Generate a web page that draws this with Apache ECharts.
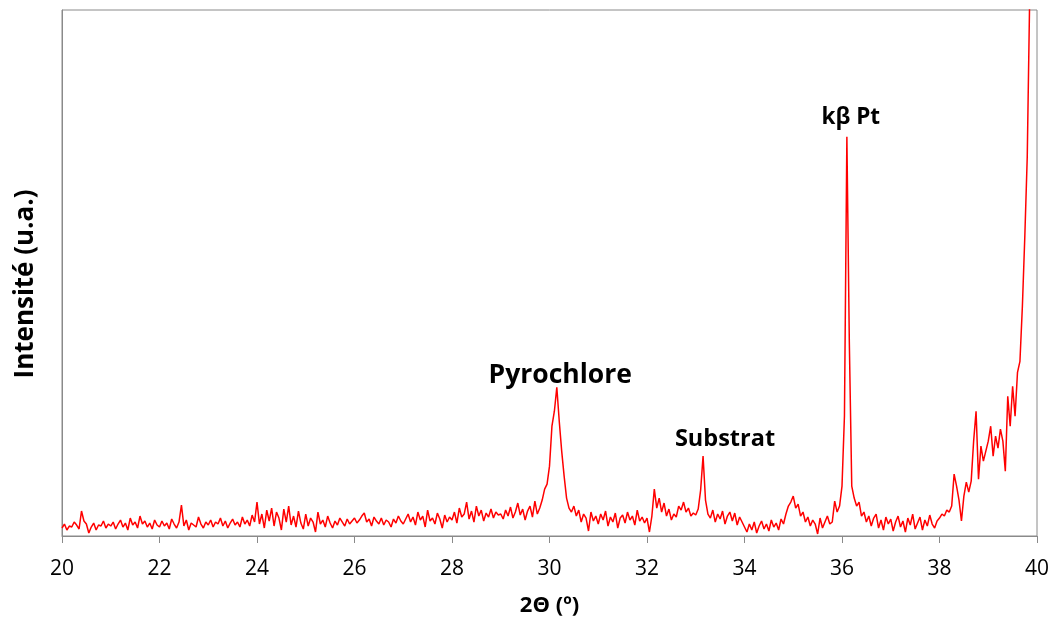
<!DOCTYPE html>
<html>
<head>
<meta charset="utf-8">
<script src="https://cdn.jsdelivr.net/npm/echarts@6/dist/echarts.min.js"></script>
<style>
html,body{margin:0;padding:0;background:#fff;}
#chart{width:1053px;height:622px;}
</style>
</head>
<body>
<div id="chart"></div>
<script>
// Scan grid (2θ in degrees)
const scanStart = 20;
const scanStep = 0.05;
// Intensity (a.u.), one array per degree, 0.05° steps
const i20 = [8,12,6,10,9,14,11,7,25,15,12,3,9,13,6,11,10,15,8,12];
const i21 = [10,14,7,12,16,9,13,6,18,11,14,8,20,12,15,9,13,7,16,11];
const i22 = [9,15,10,13,7,17,12,8,14,31,10,16,6,13,11,9,19,12,8,14];
const i23 = [11,16,9,14,12,18,10,15,8,13,17,11,14,9,19,12,16,10,21,14];
const i24 = [34,12,22,8,26,15,28,10,24,18,6,27,14,30,11,20,9,25,13,7];
const i25 = [22,10,18,14,4,24,12,16,9,20,13,8,15,11,18,14,10,17,12,15];
const i26 = [18,13,16,20,23,14,17,10,19,15,12,18,11,16,14,9,17,13,20,15];
const i27 = [12,17,22,14,19,11,24,16,20,9,26,15,18,12,23,17,8,21,14,19];
const i28 = [16,24,13,28,19,22,34,17,25,14,30,20,26,15,23,19,27,18,24,21];
const i29 = [22,17,26,20,29,18,24,33,21,27,16,25,30,19,35,22,28,36,47,52];
const i30 = [70,110,125,149,115,85,60,38,28,24,30,20,26,14,22,18,5,24,15,20];
const i31 = [12,22,16,25,10,19,14,23,8,18,21,13,24,16,20,11,26,15,19,13];
const i32 = [18,4,20,47,28,38,24,33,20,27,16,22,19,30,26,34,24,28,20,23];
const i33 = [21,27,46,80,36,22,18,26,14,22,17,25,12,20,24,15,23,11,19,14];
const i34 = [9,4,12,6,14,3,10,15,7,12,5,16,9,13,6,17,12,22,30,34];
const i35 = [40,28,32,20,24,14,19,10,16,12,2,18,8,14,20,12,14,35,24,30];
const i36 = [50,120,400,195,50,38,30,34,20,24,14,20,10,18,22,8,16,6,19,12];
const i37 = [17,5,14,20,9,15,4,18,11,22,7,13,19,6,16,10,21,12,8,15];
const i38 = [18,22,20,26,24,30,62,50,36,15,40,54,44,55,95,125,57,90,75,85];
const i39 = [95,110,80,100,88,107,95,65,140,110,150,120,164,175,230,300,380,540,700,850];
const i40 = [950];

// Axis ticks
const xTicks = [20,22,24,26,28,30,32,34,36,38,40];

// Peak annotations
const annText = ['Pyrochlore','Substrat','kβ Pt'];
const annX = [30.22, 33.6, 36.18];
const annY = [161, 97, 419];

const intensity = [].concat(i20,i21,i22,i23,i24,i25,i26,i27,i28,i29,i30,i31,i32,i33,i34,i35,i36,i37,i38,i39,i40);
const lineData = intensity.map((v, k) => [+(scanStart + k * scanStep).toFixed(2), v]);

const annFont = [26.5, 23.5, 22.5];
const annData = annText.map((t, k) => ({
  name: t,
  value: [annX[k], annY[k]],
  label: { fontSize: annFont[k] }
}));

const FONT = '"Open Sans", Lato, sans-serif';
const chart = echarts.init(document.getElementById('chart'), null, {renderer: 'canvas'});
chart.setOption({
  animation: false,
  backgroundColor: '#ffffff',
  grid: {
    left: 62, right: 16, top: 10, bottom: 85,
    show: true, borderColor: '#8a8a8a', borderWidth: 1, backgroundColor: 'transparent'
  },
  xAxis: {
    type: 'value',
    min: xTicks[0], max: xTicks[xTicks.length - 1], interval: 2,
    name: '2Θ (º)',
    nameLocation: 'middle',
    nameGap: 59,
    nameTextStyle: { fontFamily: FONT, fontSize: 22, fontWeight: 'bold', color: '#000' },
    axisLine: { show: true, lineStyle: { color: '#8a8a8a', width: 1 } },
    axisTick: { show: true, inside: false, length: 7, lineStyle: { color: '#8a8a8a' } },
    axisLabel: { fontFamily: FONT, fontSize: 21, color: '#000', margin: 23 },
    splitLine: { show: false }
  },
  yAxis: {
    type: 'value',
    min: 0, max: 527,
    name: 'Intensité (u.a.)',
    nameLocation: 'middle',
    nameGap: 23,
    nameTextStyle: { fontFamily: FONT, fontSize: 26, fontWeight: 'bold', color: '#000', padding: [0, 22, 0, 0] },
    axisLine: { show: true, lineStyle: { color: '#8a8a8a', width: 1 } },
    axisTick: { show: false },
    axisLabel: { show: false },
    splitLine: { show: false }
  },
  series: [
    {
      type: 'line',
      data: lineData,
      showSymbol: false,
      symbol: 'none',
      clip: true,
      lineStyle: { color: '#ff0000', width: 1.5 },
      z: 2
    },
    {
      type: 'scatter',
      data: annData,
      symbolSize: 0,
      silent: true,
      itemStyle: { opacity: 1 },
      label: {
        show: true,
        position: 'inside',
        formatter: p => p.name,
        fontFamily: FONT,
        fontWeight: 'bold',
        color: '#000',
        opacity: 1
      },
      z: 3
    }
  ]
});
</script>
</body>
</html>
